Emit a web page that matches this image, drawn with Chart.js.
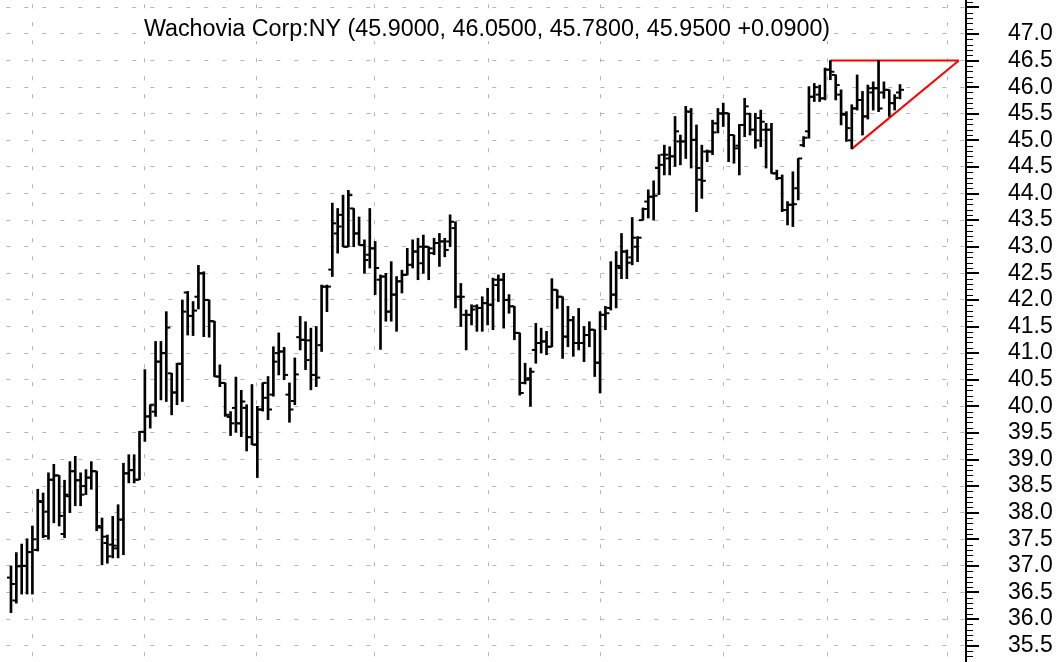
<!DOCTYPE html>
<html lang="en">
  <head>
    <meta charset="UTF-8" />
    <title>Wachovia Corp:NY</title>
    <style>
      body {
        margin: 0;
        background: #fff;
      }
      canvas {
        display: block;
      }
    </style>
  </head>
  <body>
    <canvas id="priceChart" width="1063" height="662"></canvas>
    <script src="https://cdn.jsdelivr.net/npm/chart.js"></script>
    <script>
      // daily bars, oldest first
      const opens = [
        36.78, 36.35, 37.0, 37.0, 37.26, 37.3, 38.2, 38.02, 38.62, 38.7,
        37.6, 38.31, 38.78, 38.61, 38.5, 38.66, 38.78, 37.72, 37.43, 37.4,
        37.33, 37.87, 38.74, 38.8, 38.62, 39.52, 39.81, 39.9, 40.84, 41.0,
        40.62, 40.26, 40.8, 42.14, 41.7, 42.06, 42.5, 42.0, 41.6, 40.56,
        40.44, 39.8, 39.97, 39.68, 39.97, 39.42, 39.28, 39.94, 40.16, 40.22,
        41.0, 41.03, 40.22, 40.1, 41.3, 41.25,
        41.24, 40.59, 41.15, 42.25, 42.57, 43.25, 43.6, 43.0, 43.72, 43.25,
        43.03, 42.85, 42.97, 42.38, 42.44, 41.78, 42.1, 42.35, 42.47, 42.66,
        42.91, 42.69, 43.0, 42.88, 43.07, 43.1, 43.1, 43.35, 42.06, 41.72,
        41.72, 41.88, 41.85, 41.94, 41.91, 42.28, 42.38, 42.0, 41.88, 41.38,
        40.44, 40.53, 41.06, 41.19, 41.22, 41.12, 42.19, 42.06, 41.31, 41.62,
        41.19, 41.19, 41.34, 41.44, 40.82, 41.72, 41.85, 42.1,
        42.6, 42.91, 42.8, 43.0, 43.5, 43.85, 43.94, 44.48, 44.73, 44.66,
        44.7, 44.98, 44.98, 45.54, 45.01, 44.26, 44.79, 44.79, 45.32, 45.5,
        45.51, 45.1, 44.9, 45.29, 45.5, 45.2, 45.42, 45.2, 45.2, 44.38,
        44.29, 43.69, 43.79, 44.1, 44.91, 45.17, 45.82, 45.86, 45.79, 46.33,
        46.23, 45.86, 45.48, 45.0, 45.6, 45.76, 45.45, 45.9, 45.98, 45.9,
        45.95, 45.7, 45.9,
      ];
      const highs = [
        37.0, 37.25, 37.41, 37.51, 37.75, 38.44, 38.37, 38.75, 38.91, 38.7,
        38.61, 38.96, 39.06, 38.75, 38.81, 38.96, 38.78, 37.9, 37.58, 37.93,
        38.15, 38.93, 39.09, 39.09, 39.53, 40.69, 40.03, 41.22, 41.22, 41.78,
        40.62, 40.81, 42.0, 42.16, 41.97, 42.65, 42.53, 42.0, 41.6, 40.78,
        40.44, 39.9, 40.55, 40.3, 40.03, 40.41, 40.0, 40.44, 40.56, 41.12,
        41.38, 41.11, 40.44, 40.91, 41.69, 41.59,
        41.47, 41.5, 42.28, 42.28, 43.82, 43.72, 43.97, 44.06, 43.72, 43.56,
        43.13, 43.72, 43.1, 42.47, 42.5, 42.72, 42.44, 42.56, 42.97, 43.13,
        43.16, 43.22, 43.0, 43.16, 43.25, 43.16, 43.6, 43.47, 42.31, 41.81,
        41.91, 41.91, 42.06, 42.22, 42.41, 42.47, 42.5, 42.1, 41.88, 41.38,
        40.81, 40.72, 41.56, 41.47, 41.41, 42.4, 42.19, 42.06, 41.88, 41.69,
        41.84, 41.5, 41.59, 41.44, 41.78, 41.88, 42.72, 42.91,
        43.25, 42.94, 43.55, 43.19, 43.73, 44.07, 44.24, 44.73, 44.91, 44.88,
        45.45, 45.1, 45.64, 45.6, 45.29, 44.91, 44.82, 45.38, 45.6, 45.7,
        45.51, 45.1, 45.3, 45.79, 45.51, 45.51, 45.57, 45.32, 45.32, 44.44,
        44.35, 43.85, 44.41, 44.66, 45.07, 46.01, 46.07, 46.04, 46.36, 46.5,
        46.23, 45.95, 45.54, 45.67, 46.23, 45.92, 46.04, 46.1, 46.5, 46.1,
        45.95, 45.86, 46.05,
      ];
      const lows = [
        36.12, 36.3, 36.47, 36.47, 36.47, 37.28, 37.53, 37.5, 37.81, 37.75,
        37.53, 38.0, 38.13, 38.13, 38.34, 38.44, 37.66, 37.02, 37.05, 37.15,
        37.15, 37.21, 38.56, 38.56, 38.62, 39.34, 39.59, 39.81, 40.12, 40.09,
        39.84, 40.03, 40.09, 41.34, 41.33, 41.83, 41.31, 41.3, 40.56, 40.37,
        39.81, 39.45, 39.51, 39.43, 39.16, 39.28, 38.66, 39.91, 39.75, 40.19,
        40.59, 40.5, 39.7, 40.03, 41.06, 40.69,
        40.31, 40.37, 41.03, 41.78, 42.44, 42.88, 43.0, 43.0, 43.0, 43.03,
        42.5, 42.6, 42.1, 41.07, 41.6, 41.6, 41.41, 42.13, 42.47, 42.6,
        42.38, 42.5, 42.38, 42.85, 42.63, 42.81, 43.0, 41.85, 41.5, 41.06,
        41.53, 41.41, 41.41, 41.53, 41.44, 41.97, 41.47, 41.75, 41.25, 40.21,
        40.42, 40.0, 40.81, 41.0, 40.97, 41.12, 41.84, 40.9, 41.12, 40.94,
        41.06, 40.84, 41.12, 40.56, 40.25, 41.44, 41.81, 41.85,
        42.4, 42.4, 42.66, 42.72, 43.5, 43.54, 43.5, 43.98, 44.35, 44.35,
        44.51, 44.54, 44.66, 44.48, 43.66, 43.91, 44.6, 44.73, 45.14, 45.26,
        44.6, 44.57, 44.35, 45.07, 45.1, 44.85, 44.88, 44.48, 44.38, 44.26,
        43.66, 43.41, 43.38, 43.88, 44.88, 45.04, 45.73, 45.73, 45.76, 46.14,
        45.76, 45.29, 44.98, 44.84, 45.57, 45.1, 45.4, 45.57, 45.54, 45.79,
        45.45, 45.57, 45.78,
      ];
      const closes = [
        36.66, 36.99, 37.0, 37.26, 37.5, 38.22, 37.56, 38.62, 38.7, 37.94,
        38.34, 38.78, 38.61, 38.34, 38.66, 38.78, 37.75, 37.55, 37.18, 37.38,
        37.87, 38.74, 38.8, 38.62, 39.52, 39.81, 40.03, 40.84, 41.0, 41.48,
        40.26, 40.8, 41.78, 41.7, 41.8, 42.5, 42.0, 41.6, 40.56, 40.44,
        39.84, 39.68, 39.68, 40.09, 39.42, 39.28, 39.94, 40.44, 39.94, 40.84,
        41.03, 40.59, 39.94, 40.6, 41.25, 40.87,
        40.59, 40.54, 42.25, 42.25, 43.44, 43.38, 43.0, 43.97, 43.25, 43.03,
        42.75, 42.97, 42.6, 42.44, 41.78, 42.1, 42.35, 42.47, 42.66, 42.91,
        43.0, 43.0, 42.97, 43.07, 43.1, 42.94, 43.47, 42.06, 42.06, 41.72,
        41.82, 41.85, 41.94, 41.91, 42.38, 42.38, 42.0, 41.88, 41.38, 40.25,
        40.5, 40.65, 41.19, 41.22, 41.12, 42.19, 42.06, 41.31, 41.62, 41.19,
        41.19, 41.34, 41.44, 40.82, 41.72, 41.75, 42.1, 42.64,
        42.91, 42.7, 43.17, 43.17, 43.71, 43.94, 43.96, 44.54, 44.73, 44.7,
        45.17, 44.98, 45.54, 45.01, 44.48, 44.24, 44.79, 45.15, 45.51, 45.51,
        45.1, 44.85, 45.29, 45.64, 45.2, 45.0, 45.35, 45.2, 44.38, 44.29,
        43.69, 43.79, 43.8, 44.66, 45.05, 45.82, 46.0, 45.79, 46.33, 46.29,
        46.04, 45.5, 45.23, 45.6, 45.76, 45.45, 45.98, 45.98, 45.6, 45.95,
        45.7, 45.8, 45.95,
      ];

      // price axis labels and the first trading day of each month (bar index)
      const priceTicks = [
        35.5, 36.0, 36.5, 37.0, 37.5, 38.0, 38.5, 39.0, 39.5, 40.0, 40.5,
        41.0, 41.5, 42.0, 42.5, 43.0, 43.5, 44.0, 44.5, 45.0, 45.5, 46.0,
        46.5, 47.0, 47.5,
      ];
      const monthStarts = [4.1, 25.0, 45.9, 67.8, 89.1, 110.0, 133.1, 152.4, 174.8];

      // ascending triangle drawn over the last weeks
      const resistance = [
        { x: 153, y: 46.5 },
        { x: 177, y: 46.5 },
      ];
      const support = [
        { x: 157, y: 44.84 },
        { x: 177, y: 46.5 },
      ];

      const quoteText =
        "Wachovia Corp:NY (45.9000, 46.0500, 45.7800, 45.9500 +0.0900)";

      const tickShift = 0.37;
      const gridColor = "#b4b4b4";

      const ranges = highs.map((h, i) => ({ x: i, y: [lows[i], h] }));
      const openTicks = opens.map((o, i) => ({ x: i - tickShift, y: o }));
      const closeTicks = closes.map((c, i) => ({ x: i + tickShift, y: c }));

      // axis line, 0.5 / 0.1 tick marks and the quote line at the top
      const priceAxis = {
        id: "priceAxis",
        afterDraw(chart) {
          const { ctx, chartArea } = chart;
          const yScale = chart.scales.y;
          const x0 = chartArea.right + 1;
          ctx.save();
          ctx.strokeStyle = "#000";
          ctx.lineWidth = 2;
          ctx.beginPath();
          ctx.moveTo(x0, chartArea.top);
          ctx.lineTo(x0, chartArea.bottom);
          ctx.stroke();
          for (let t = 352; t <= 476; t++) {
            const major = t % 5 === 0;
            const py = Math.round(yScale.getPixelForValue(t / 10));
            ctx.lineWidth = major ? 2 : 1;
            ctx.beginPath();
            ctx.moveTo(x0, major ? py : py + 0.5);
            ctx.lineTo(x0 + (major ? 13 : 7), major ? py : py + 0.5);
            ctx.stroke();
          }

          ctx.font = '23.3px "Liberation Sans", Arial, sans-serif';
          ctx.textAlign = "center";
          ctx.textBaseline = "alphabetic";
          const w = ctx.measureText(quoteText).width;
          const cx = 487;
          ctx.fillStyle = "#fff";
          ctx.fillRect(cx - w / 2 - 3, 14, w + 6, 27);
          ctx.fillStyle = "#000";
          ctx.fillText(quoteText, cx, 36);
          ctx.restore();
        },
      };

      const chart = new Chart(document.getElementById("priceChart"), {
        type: "bar",
        data: {
          datasets: [
            {
              label: "Range",
              data: ranges,
              backgroundColor: "#000",
              borderWidth: 0,
              barThickness: 2,
              borderSkipped: false,
            },
            {
              type: "scatter",
              label: "Open",
              data: openTicks,
              pointStyle: "line",
              pointRadius: 2,
              pointBorderWidth: 2,
              pointBorderColor: "#000",
              borderColor: "#000",
            },
            {
              type: "scatter",
              label: "Close",
              data: closeTicks,
              pointStyle: "line",
              pointRadius: 2,
              pointBorderWidth: 2,
              pointBorderColor: "#000",
              borderColor: "#000",
            },
            {
              type: "line",
              label: "Resistance",
              data: resistance,
              borderColor: "#ff0000",
              borderWidth: 2,
              pointRadius: 0,
              fill: false,
            },
            {
              type: "line",
              label: "Support",
              data: support,
              borderColor: "#ff0000",
              borderWidth: 2,
              pointRadius: 0,
              fill: false,
            },
          ],
        },
        options: {
          responsive: false,
          animation: false,
          events: [],
          layout: { padding: 0, autoPadding: false },
          plugins: {
            legend: { display: false },
            tooltip: { enabled: false },
          },
          scales: {
            x: {
              type: "linear",
              min: -2.05,
              max: 178.14,
              offset: false,
              grid: {
                offset: false,
                color: gridColor,
                drawTicks: false,
              },
              border: { display: false, dash: [4, 14], dashOffset: 13.7 },
              ticks: { display: false },
              afterBuildTicks(scale) {
                scale.ticks = monthStarts.map((v) => ({ value: v }));
              },
              afterFit(scale) {
                scale.height = 0;
                scale.paddingLeft = 0;
                scale.paddingRight = 0;
              },
            },
            y: {
              position: "right",
              min: 35.193,
              max: 47.639,
              grid: {
                color: gridColor,
                drawTicks: false,
              },
              border: { display: false, dash: [4, 14], dashOffset: 11.7 },
              ticks: {
                autoSkip: false,
                padding: 43,
                color: "#000",
                font: { family: '"Liberation Sans", Arial, sans-serif', size: 23 },
                callback: (v) => (v > 47.2 ? "" : v.toFixed(1)),
              },
              afterBuildTicks(scale) {
                scale.ticks = priceTicks.map((v) => ({ value: v }));
              },
              afterFit(scale) {
                scale.width = 98;
                scale.paddingTop = 0;
                scale.paddingBottom = 0;
              },
            },
          },
        },
        plugins: [priceAxis],
      });
    </script>
  </body>
</html>
